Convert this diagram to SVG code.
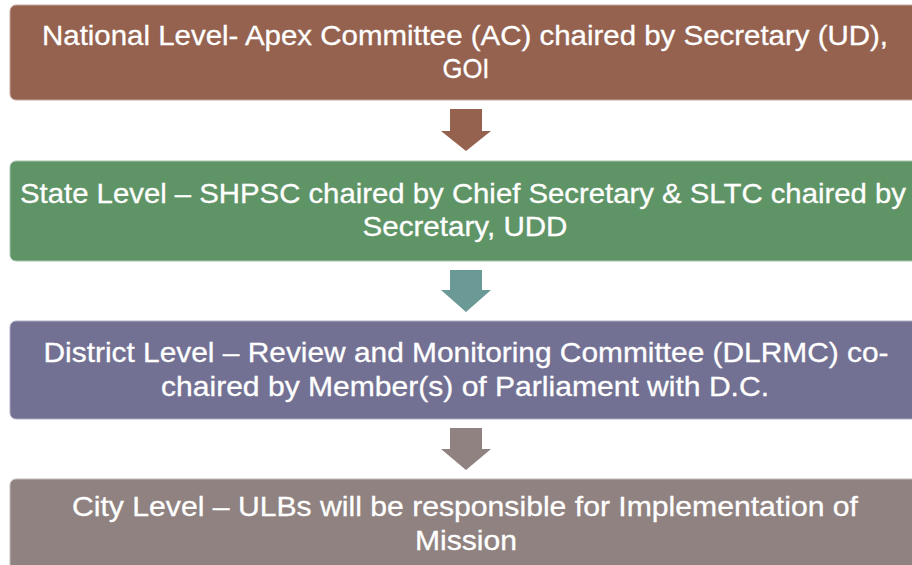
<svg xmlns="http://www.w3.org/2000/svg" width="912" height="565" viewBox="0 0 912 565">
<style>
.box{stroke-width:1}
.t{font-family:"Liberation Sans",Arial,sans-serif;font-size:28px;fill:#ffffff;stroke:#ffffff;stroke-width:0.3;text-anchor:middle}
</style>
<rect width="912" height="565" fill="#ffffff"/>
<g id="connectors">
<polygon points="450,109 482,109 482,131 491,131 466,151 441,131 450,131" fill="#956250"/>
<polygon points="450,270 482,270 482,290 491,290 466,312 441,290 450,290" fill="#6b9a96"/>
<polygon points="450,428 482,428 482,449 491,449 466,470 441,449 450,449" fill="#8f8280"/>
</g>
<g id="national">
<rect class="box" x="10" y="5" width="912" height="95" rx="6" fill="#956250" stroke="#c4a59b"/>
<text class="t" x="465" y="45" textLength="846" lengthAdjust="spacingAndGlyphs">National Level- Apex Committee (AC) chaired by Secretary (UD),</text>
<text class="t" x="466" y="78" textLength="47" lengthAdjust="spacingAndGlyphs">GOI</text>
</g>
<g id="state">
<rect class="box" x="10" y="161" width="912" height="100" rx="6" fill="#5f9467" stroke="#a9c4ad"/>
<text class="t" x="463" y="203" textLength="886" lengthAdjust="spacingAndGlyphs">State Level – SHPSC chaired by Chief Secretary &amp; SLTC chaired by</text>
<text class="t" x="465" y="236" textLength="205" lengthAdjust="spacingAndGlyphs">Secretary, UDD</text>
</g>
<g id="district">
<rect class="box" x="10" y="321" width="912" height="98" rx="6" fill="#737193" stroke="#b0aec3"/>
<text class="t" x="466" y="362" textLength="845" lengthAdjust="spacingAndGlyphs">District Level – Review and Monitoring Committee (DLRMC) co-</text>
<text class="t" x="465" y="396" textLength="608" lengthAdjust="spacingAndGlyphs">chaired by Member(s) of Parliament with D.C.</text>
</g>
<g id="city">
<rect class="box" x="10" y="479" width="912" height="110" rx="6" fill="#8f8280" stroke="#c3bab8"/>
<text class="t" x="465" y="516" textLength="786" lengthAdjust="spacingAndGlyphs">City Level – ULBs will be responsible for Implementation of</text>
<text class="t" x="466" y="550" textLength="102" lengthAdjust="spacingAndGlyphs">Mission</text>
</g>
</svg>
